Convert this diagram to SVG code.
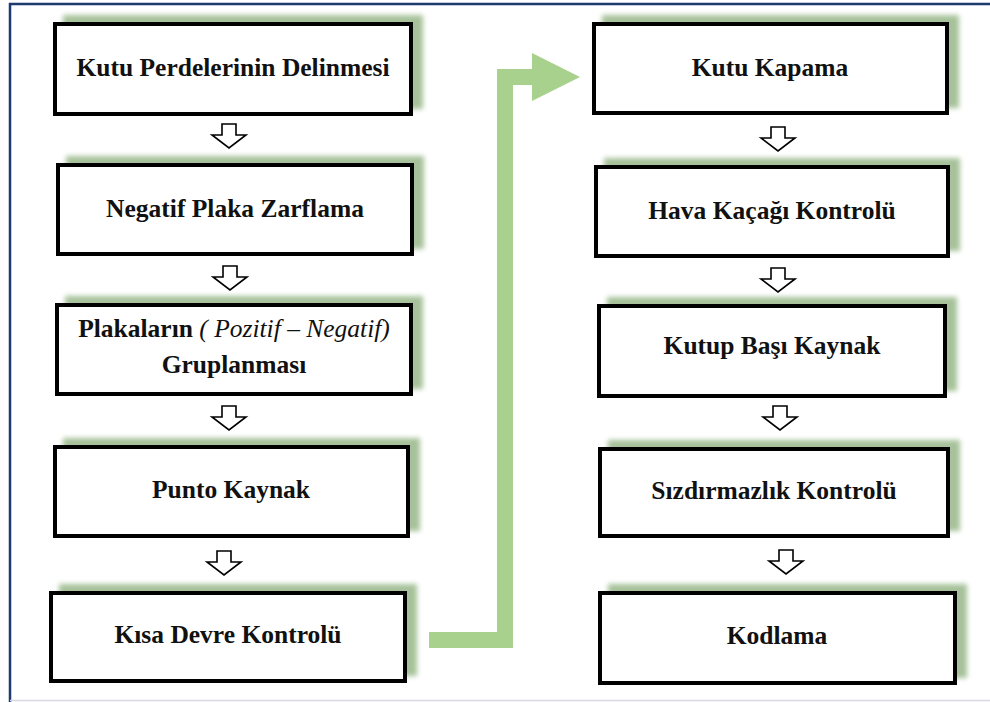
<svg xmlns="http://www.w3.org/2000/svg" width="990" height="702" viewBox="0 0 990 702">
  <style>
    .box { fill: #ffffff; stroke: #000000; stroke-width: 4; filter: url(#glow); }
    .lbl { font-size: 25.5px; font-weight: bold; fill: #111111; text-anchor: middle; }
    .it { font-style: italic; font-weight: normal; }
    .step { fill: #ffffff; stroke: #000000; stroke-width: 1.6; stroke-linejoin: miter; }
  </style>
  <defs>
    <!-- soft green shadow thrown up and to the right -->
    <filter id="glow" x="-10%" y="-30%" width="125%" height="160%">
      <feOffset in="SourceAlpha" dx="10" dy="-7" result="off"/>
      <feGaussianBlur in="off" stdDeviation="2.5" result="blur"/>
      <feFlood flood-color="#a7c29a" result="col"/>
      <feComposite in="col" in2="blur" operator="in" result="shadow"/>
      <feMerge>
        <feMergeNode in="shadow"/>
        <feMergeNode in="SourceGraphic"/>
      </feMerge>
    </filter>
    <!-- hollow down arrow between steps -->
    <path id="down" d="M-7,0 H7 V11 H17 L0,24 L-17,11 H-7 Z"/>
  </defs>

  <rect width="990" height="702" fill="#ffffff"/>

  <!-- frame -->
  <g id="frame">
    <line x1="9" y1="4" x2="990" y2="4" stroke="#1f3a6e" stroke-width="2.5"/>
    <line x1="10" y1="3" x2="10" y2="702" stroke="#1f3a6e" stroke-width="2.5"/>
    <line x1="10" y1="700.5" x2="990" y2="700.5" stroke="#d8d8e6" stroke-width="1.5"/>
  </g>

  <!-- connectors -->
  <g id="connectors">
    <use href="#down" class="step" x="229" y="124"/>
    <use href="#down" class="step" x="230" y="266"/>
    <use href="#down" class="step" x="229" y="406"/>
    <use href="#down" class="step" x="224" y="551"/>
    <use href="#down" class="step" x="778" y="127"/>
    <use href="#down" class="step" x="778" y="268"/>
    <use href="#down" class="step" x="780" y="406"/>
    <use href="#down" class="step" x="786" y="550"/>
    <polygon points="429,632 497,632 497,69 532,69 532,53 580,77 532,101 532,85 513,85 513,648 429,648" fill="#a9d18e"/>
  </g>

  <g font-family="'Liberation Serif', Tinos, 'Times New Roman', 'DejaVu Serif', serif">
    <!-- left column -->
    <g id="n1">
      <rect class="box" x="55" y="24" width="356" height="90"/>
      <text class="lbl" x="233" y="76">Kutu Perdelerinin Delinmesi</text>
    </g>
    <g id="n2">
      <rect class="box" x="58" y="165" width="354" height="89"/>
      <text class="lbl" x="235" y="217">Negatif Plaka Zarflama</text>
    </g>
    <g id="n3">
      <rect class="box" x="57" y="305" width="354" height="89"/>
      <text class="lbl" x="234" y="337">Plakaların <tspan class="it">( Pozitif – Negatif)</tspan></text>
      <text class="lbl" x="234" y="373">Gruplanması</text>
    </g>
    <g id="n4">
      <rect class="box" x="55" y="447" width="353" height="89"/>
      <text class="lbl" x="231" y="498">Punto Kaynak</text>
    </g>
    <g id="n5">
      <rect class="box" x="51" y="593" width="354" height="88"/>
      <text class="lbl" x="228" y="643">Kısa Devre Kontrolü</text>
    </g>

    <!-- right column -->
    <g id="n6">
      <rect class="box" x="594" y="24" width="353" height="89"/>
      <text class="lbl" x="770" y="76">Kutu Kapama</text>
    </g>
    <g id="n7">
      <rect class="box" x="596" y="167" width="352" height="89"/>
      <text class="lbl" x="772" y="219">Hava Kaçağı Kontrolü</text>
    </g>
    <g id="n8">
      <rect class="box" x="599" y="306" width="346" height="90"/>
      <text class="lbl" x="772" y="354">Kutup Başı Kaynak</text>
    </g>
    <g id="n9">
      <rect class="box" x="600" y="449" width="348" height="87"/>
      <text class="lbl" x="774" y="499">Sızdırmazlık Kontrolü</text>
    </g>
    <g id="n10">
      <rect class="box" x="600" y="593" width="355" height="90"/>
      <text class="lbl" x="777" y="644">Kodlama</text>
    </g>
  </g>
</svg>
